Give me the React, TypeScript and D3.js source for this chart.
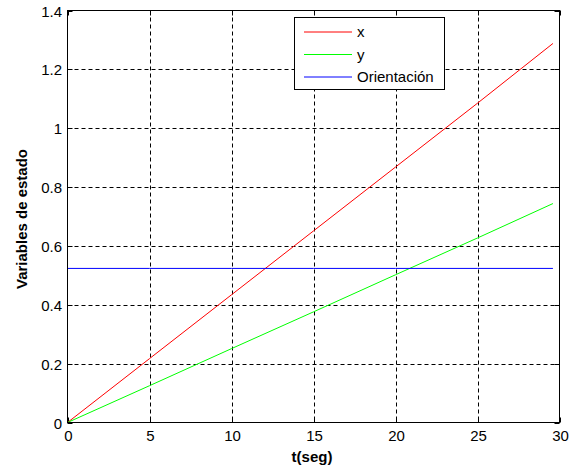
import React from "react";
import * as d3 from "d3";

// Simulation time samples (s)
const tSeg = [0, 5, 10, 15, 20, 25, 29.6];
// State variables
const xPos = [0, 0.217, 0.434, 0.651, 0.868, 1.085, 1.288];
const yPos = [0, 0.125, 0.251, 0.376, 0.502, 0.627, 0.744];
const orient = [0.5236, 0.5236, 0.5236, 0.5236, 0.5236, 0.5236, 0.5236];

const xTicks = [0, 5, 10, 15, 20, 25, 30];
const yTicks = [0, 0.2, 0.4, 0.6, 0.8, 1, 1.2, 1.4];

const seriesNames = ["x", "y", "Orientación"];
const seriesColors = ["#ff0000", "#00ff00", "#0000ff"];

const W = 579;
const H = 469;
const L = 67.5;
const R = 559.5;
const T = 10.5;
const B = 422.5;
const FONT = "Arial, 'Liberation Sans', sans-serif";

export default function App() {
  const xs = d3.scaleLinear().domain([0, 30]).range([L, R]);
  const ys = d3.scaleLinear().domain([0, 1.4]).range([B, T]);
  const series = [xPos, yPos, orient];
  const line = d3
    .line<[number, number]>()
    .x((d) => xs(d[0]))
    .y((d) => ys(d[1]));

  const legX = 294.5;
  const legY = 17.5;
  const legW = 150;
  const legH = 72;

  return (
    <svg
      width={W}
      height={H}
      style={{ position: "absolute", left: 0, top: 0, background: "#fff" }}
    >
      <rect x={0} y={0} width={W} height={H} fill="#fff" />
      {/* grid */}
      {xTicks.slice(1, -1).map((t) => (
        <line
          key={"gx" + t}
          x1={Math.round(xs(t)) + 0.5}
          x2={Math.round(xs(t)) + 0.5}
          y1={T}
          y2={B}
          stroke="#000"
          strokeDasharray="4,3"
          strokeWidth={1}
        />
      ))}
      {yTicks.slice(1, -1).map((v) => (
        <line
          key={"gy" + v}
          x1={L}
          x2={R}
          y1={Math.round(ys(v)) + 0.5}
          y2={Math.round(ys(v)) + 0.5}
          stroke="#000"
          strokeDasharray="4,3"
          strokeWidth={1}
        />
      ))}
      {/* ticks */}
      {xTicks.map((t) => {
        const px = Math.round(xs(t)) + 0.5;
        return (
          <g key={"tx" + t}>
            <line x1={px} x2={px} y1={B} y2={B - 5} stroke="#000" />
            <line x1={px} x2={px} y1={T} y2={T + 5} stroke="#000" />
            <text
              x={px}
              y={441}
              textAnchor="middle"
              fontFamily={FONT}
              fontSize={15}
              fill="#000"
            >
              {t}
            </text>
          </g>
        );
      })}
      {yTicks.map((v) => {
        const py = Math.round(ys(v)) + 0.5;
        return (
          <g key={"ty" + v}>
            <line x1={L} x2={L + 5} y1={py} y2={py} stroke="#000" />
            <line x1={R} x2={R - 5} y1={py} y2={py} stroke="#000" />
            <text
              x={62}
              y={py + 5}
              textAnchor="end"
              fontFamily={FONT}
              fontSize={15}
              fill="#000"
            >
              {v}
            </text>
          </g>
        );
      })}
      {/* data */}
      {series.map((vals, i) => (
        <path
          key={"s" + i}
          d={line(tSeg.map((t, j) => [t, vals[j]] as [number, number])) || ""}
          fill="none"
          stroke={seriesColors[i]}
          strokeWidth={1}
        />
      ))}
      {/* axes box */}
      <rect x={L} y={T} width={R - L} height={B - T} fill="none" stroke="#000" strokeWidth={1} />
      {/* legend */}
      <rect x={legX} y={legY} width={legW} height={legH} fill="#fff" stroke="#000" strokeWidth={1} />
      {seriesNames.map((name, i) => {
        const cy = 32 + i * 22.5;
        return (
          <g key={"l" + i}>
            <line x1={304} x2={352} y1={cy} y2={cy} stroke={seriesColors[i]} strokeWidth={1} />
            <text x={357} y={cy + 5} fontFamily={FONT} fontSize={15} fill="#000">
              {name}
            </text>
          </g>
        );
      })}
      {/* axis labels */}
      <text
        x={312}
        y={462}
        textAnchor="middle"
        fontFamily={FONT}
        fontSize={15}
        fontWeight="bold"
        fill="#000"
      >
        t(seg)
      </text>
      <text
        transform={`translate(27,219) rotate(-90)`}
        textAnchor="middle"
        fontFamily={FONT}
        fontSize={15}
        fontWeight="bold"
        fill="#000"
      >
        Variables de estado
      </text>
    </svg>
  );
}
